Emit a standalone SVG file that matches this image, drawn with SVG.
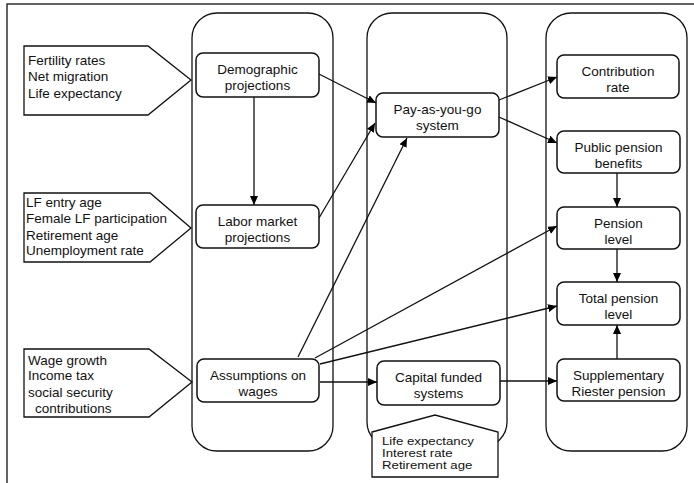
<svg xmlns="http://www.w3.org/2000/svg" width="694" height="483" viewBox="0 0 694 483">
<defs>
<marker id="arr" markerWidth="10" markerHeight="8" refX="9" refY="4" orient="auto" markerUnits="userSpaceOnUse">
<path d="M0,0 L9,4 L0,8 Z" fill="#000"/>
</marker>
<style>
.col{fill:none;stroke:#111;stroke-width:1.3}
.box{fill:#fff;stroke:#111;stroke-width:1.5}
.inp{fill:#fff;stroke:#111;stroke-width:1.3}
.t{font-family:"Liberation Sans",Arial,sans-serif;font-size:13.5px;fill:#111}
.c{text-anchor:middle}
.ln{stroke:#111;stroke-width:1.3;fill:none;marker-end:url(#arr)}
</style>
</defs>
<rect x="0" y="0" width="694" height="483" fill="#fff"/>
<rect x="7" y="4" width="700" height="490" fill="none" stroke="#111" stroke-width="1.3"/>

<g id="columns">
<rect class="col" x="192" y="13" width="141" height="438" rx="25"/>
<rect class="col" x="367" y="13" width="140" height="434" rx="25"/>
<rect class="col" x="546" y="13" width="141" height="438" rx="25"/>
</g>

<g id="connectors">
<line class="ln" x1="319" y1="74" x2="376" y2="103"/>
<line class="ln" x1="254" y1="97" x2="254" y2="205"/>
<line class="ln" x1="319" y1="218" x2="375" y2="123"/>
<line class="ln" x1="298" y1="357" x2="407" y2="138"/>
<line class="ln" x1="315" y1="358" x2="557" y2="226"/>
<line class="ln" x1="320" y1="364" x2="557" y2="306"/>
<line class="ln" x1="320" y1="382" x2="377" y2="382"/>
<line class="ln" x1="500" y1="381" x2="557" y2="381"/>
<line class="ln" x1="499" y1="100" x2="557" y2="77"/>
<line class="ln" x1="499" y1="117" x2="557" y2="143"/>
<line class="ln" x1="617" y1="173" x2="617" y2="207"/>
<line class="ln" x1="617" y1="249" x2="617" y2="282"/>
<line class="ln" x1="617" y1="359" x2="617" y2="325"/>
</g>

<g id="input-demography">
<polygon class="inp" points="24,46 148,46 191,80 148,115 24,115"/>
<text class="t" x="28" y="65">Fertility rates</text>
<text class="t" x="28" y="81">Net migration</text>
<text class="t" x="28" y="98">Life expectancy</text>
</g>

<g id="input-labor">
<polygon class="inp" points="24,193 150,193 191,228 150,262 24,262"/>
<text class="t" x="26" y="207">LF entry age</text>
<text class="t" x="26" y="223">Female LF participation</text>
<text class="t" x="26" y="240">Retirement age</text>
<text class="t" x="26" y="255">Unemployment rate</text>
</g>

<g id="input-wages">
<polygon class="inp" points="24,349 149,349 192,382 149,417 24,417"/>
<text class="t" x="28" y="365">Wage growth</text>
<text class="t" x="28" y="380">Income tax</text>
<text class="t" x="28" y="397">social security</text>
<text class="t" x="35" y="413">contributions</text>
</g>

<g id="input-capital">
<polygon class="inp" points="372,432 435,415 498,432 498,477 372,477"/>
<g transform="translate(382,0) scale(0.98,0.82)">
<text class="t" x="0" y="542.7">Life expectancy</text>
<text class="t" x="0" y="557.3">Interest rate</text>
<text class="t" x="0" y="572">Retirement age</text>
</g>
</g>

<g id="node-demographic">
<rect class="box" x="196" y="53" width="123" height="44" rx="7"/>
<text class="t c" x="257.5" y="74">Demographic</text>
<text class="t c" x="257.5" y="90">projections</text>
</g>

<g id="node-labor">
<rect class="box" x="196" y="205" width="123" height="43" rx="7"/>
<text class="t c" x="257.5" y="226">Labor market</text>
<text class="t c" x="257.5" y="242">projections</text>
</g>

<g id="node-wages">
<rect class="box" x="197" y="359" width="122" height="43" rx="7"/>
<text class="t c" x="258" y="380">Assumptions on</text>
<text class="t c" x="258" y="396">wages</text>
</g>

<g id="node-payg">
<rect class="box" x="376" y="93" width="123" height="44" rx="7"/>
<text class="t c" x="437.5" y="114">Pay-as-you-go</text>
<text class="t c" x="437.5" y="130">system</text>
</g>

<g id="node-capital">
<rect class="box" x="377" y="361" width="123" height="44" rx="7"/>
<text class="t c" x="438.5" y="382">Capital funded</text>
<text class="t c" x="438.5" y="398">systems</text>
</g>

<g id="node-contribution">
<rect class="box" x="557" y="55" width="122" height="43" rx="7"/>
<text class="t c" x="618" y="76">Contribution</text>
<text class="t c" x="618" y="92">rate</text>
</g>

<g id="node-public">
<rect class="box" x="557" y="131" width="123" height="42" rx="7"/>
<text class="t c" x="618.5" y="152">Public pension</text>
<text class="t c" x="618.5" y="168">benefits</text>
</g>

<g id="node-pension-level">
<rect class="box" x="557" y="207" width="123" height="42" rx="7"/>
<text class="t c" x="618.5" y="228">Pension</text>
<text class="t c" x="618.5" y="244">level</text>
</g>

<g id="node-total">
<rect class="box" x="557" y="282" width="123" height="43" rx="7"/>
<text class="t c" x="618.5" y="303">Total pension</text>
<text class="t c" x="618.5" y="319">level</text>
</g>

<g id="node-supplementary">
<rect class="box" x="557" y="359" width="123" height="42" rx="7"/>
<text class="t c" x="618.5" y="380">Supplementary</text>
<text class="t c" x="618.5" y="396">Riester pension</text>
</g>
</svg>
